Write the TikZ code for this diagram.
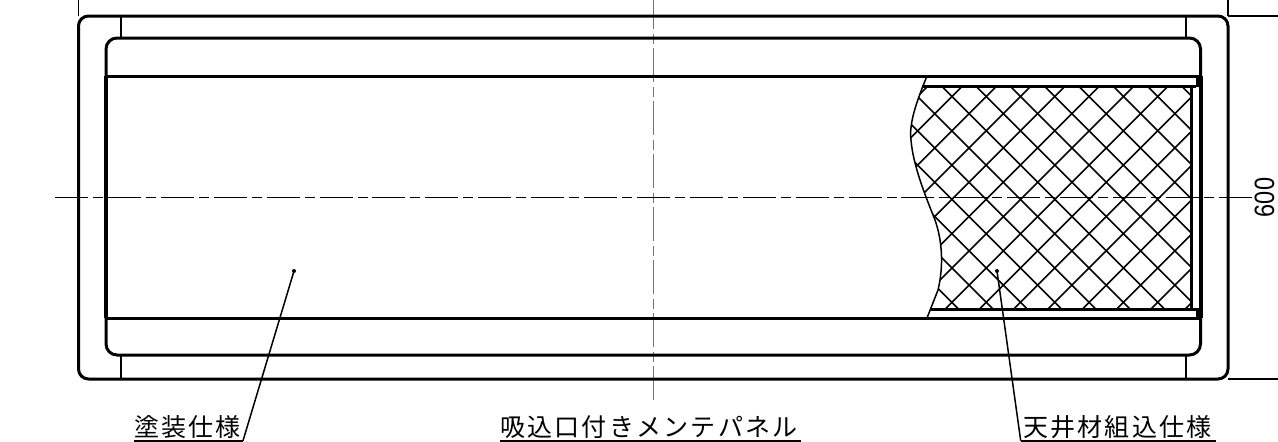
\documentclass[tikz,border=0pt]{standalone}
\usepackage{fontspec}
\newfontfamily\cjk[LetterSpace=9]{Noto Sans CJK JP}
\setsansfont{Liberation Sans}
\tikzset{
  heavy/.style={line width=3pt,black},
  medium/.style={line width=2.6pt,black},
  hatch/.style={line width=1.6pt,black},
  thin/.style={line width=1.3pt,black},
  centerh/.style={line width=1pt,black,dash pattern=on 33pt off 5pt on 10pt off 4.9pt},
  centerv/.style={line width=1.8pt,black!55,dash pattern=on 33.5pt off 5pt on 10pt off 4.5pt},
  lbl/.style={font=\cjk\fontsize{25}{25}\selectfont,inner sep=0pt,anchor=base west}
}
\begin{document}
\begin{tikzpicture}[x=1pt,y=-1pt]
\useasboundingbox (0,0) rectangle (1278,442);
% hatch
\begin{scope}
\clip (900,86) rectangle (1192,309);
\clip (927,76) .. controls (915,105) and (909,125) .. (911,140) .. controls (913,165) and (925,195) .. (935,220) .. controls (942,240) and (944,265) .. (938,290) -- (927,318) -- (1192,318) -- (1192,76) -- cycle;
\foreach \i in {-20,...,25} {
  \draw[hatch] ({855.4+34.3*\i},0) -- ++(400,400);
  \draw[hatch] ({1048.4+34.3*\i},0) -- ++(-400,400);
}
\end{scope}
% break line
\draw[line width=1.5pt] (927,76) .. controls (915,105) and (909,125) .. (911,140) .. controls (913,165) and (925,195) .. (935,220) .. controls (942,240) and (944,265) .. (938,290) -- (927,318);
% center lines
\draw[centerv] (653.5,-5) -- (653.5,402);
\draw[centerh] (55,197) -- (1252,197);
% outer frame
\draw[heavy,rounded corners=10pt] (78.5,16) rectangle (1228,379);
\draw[heavy,rounded corners=11pt] (106,38) rectangle (1200.5,355);
\draw[heavy] (106,76) -- (1200,76);
\draw[heavy] (106,318) -- (1200,318);
\draw[line width=4pt] (106,76) -- (106,318);
\draw[medium] (121,16) -- (121,38) (121,355) -- (121,379);
\draw[medium] (1186,16) -- (1186,38) (1186,355) -- (1186,379);
% inset
\draw[heavy] (922,86) -- (1196,86);
\draw[heavy] (931,309) -- (1196,309);
\draw[line width=3pt] (1191.7,86) -- (1191.7,309);
\fill (1196,76) rectangle (1202,87);
\fill (1196,308) rectangle (1202,318);
\draw[line width=4pt] (1200.5,76) -- (1200.5,318);
% dims
\draw[thin] (78.5,0) -- (78.5,16);
\draw[thin] (1228,0) -- (1228,16);
\draw[thin] (1228,16) -- (1278,16);
\draw[thin] (1228,379) -- (1278,379);
% leaders
\coordinate (a1) at (294,271);
\coordinate (a2) at (243,440.7);
\coordinate (b1) at (997,271);
\coordinate (b2) at (1020.7,440.7);
\coordinate (u1) at (134,440.7);
\coordinate (u2) at (500,440.7);
\coordinate (u3) at (801,440.7);
\coordinate (u4) at (1216,440.7);
\fill (a1) circle (2pt);
\fill (b1) circle (2pt);
\draw[line width=1.5pt] (a1) -- (a2);
\draw[line width=1.5pt] (b1) -- (b2);
\draw[line width=1.8pt] (u1) -- (a2);
\draw[line width=1.8pt] (u2) -- (u3);
\draw[line width=1.8pt] (b2) -- (u4);
\node[lbl] (t1) at (134,436) {塗装仕様};
\node[lbl] (t2) at (500,436) {吸込口付きメンテパネル};
\node[lbl] (t3) at (1023,436) {天井材組込仕様};
\node[rotate=90,inner sep=0pt,font=\sffamily\fontsize{28}{28}\selectfont] (d) at (1264.5,197.5) {\scalebox{0.84}[1]{600}};
\end{tikzpicture}
\end{document}
